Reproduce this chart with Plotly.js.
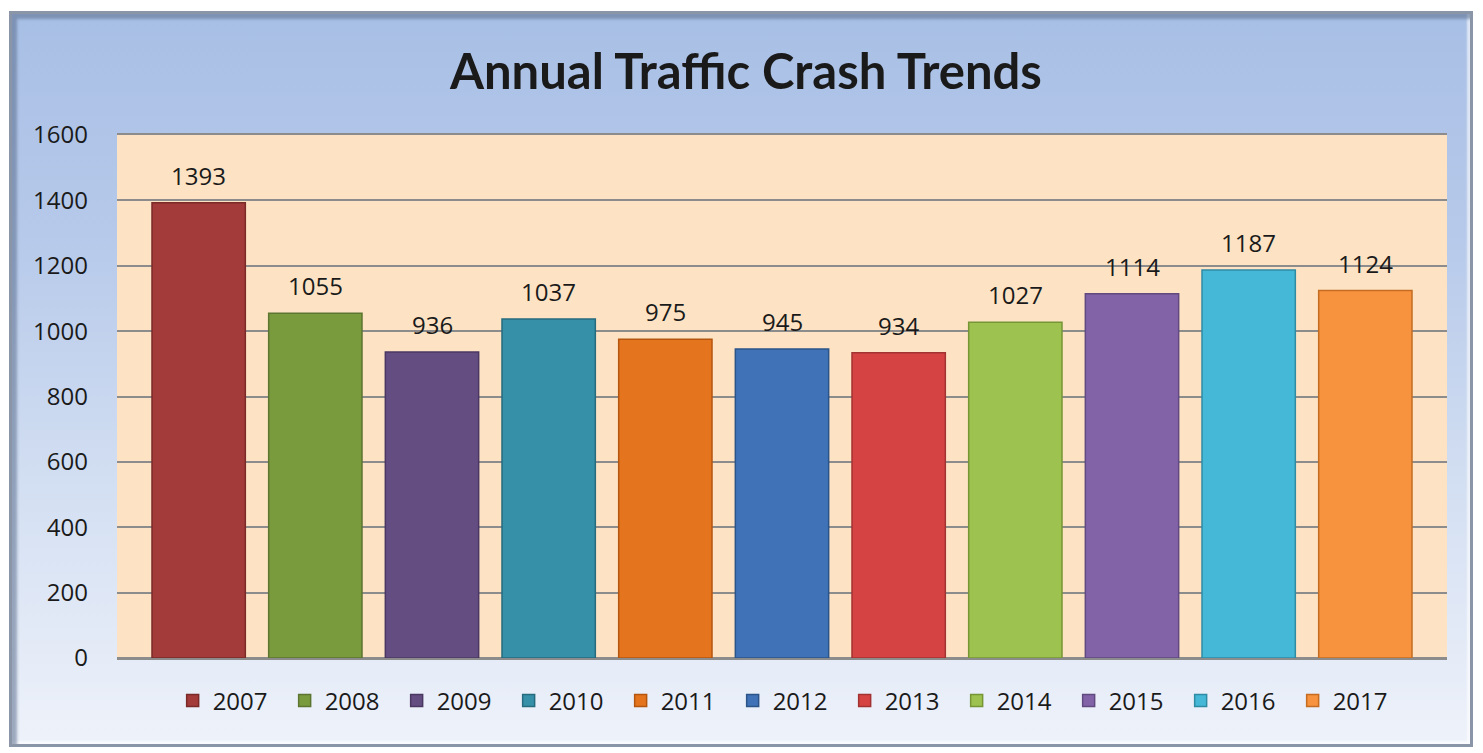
<!DOCTYPE html>
<html>
<head>
<meta charset="utf-8">
<script src="https://cdn.plot.ly/plotly-3.0.1.min.js"></script>
<style>
html,body{margin:0;padding:0;width:1483px;height:753px;overflow:hidden;background:#ffffff;}
#frame{position:absolute;left:9px;top:11px;width:1458px;height:730px;
 border:3px solid #8a96a8;box-shadow:inset 5px 5px 3px rgba(90,110,140,0.55), inset -3px -3px 2px rgba(255,255,255,0.6);
 background:linear-gradient(to bottom,#a8bfe5 0%,#b6c9ea 30%,#d3dff2 65%,#eef2fa 100%);}
#chart{position:absolute;left:0;top:0;width:1483px;height:753px;}
</style>
</head>
<body>
<div id="frame"></div>
<div id="chart"></div>
<script>
const years = ['2007','2008','2009','2010','2011','2012','2013','2014','2015','2016','2017'];
const crashes = [1393,1055,936,1037,975,945,934,1027,1114,1187,1124];
const colors = ['#a23b39','#7a9a3e','#644d80','#3590a8','#e4741e','#3f72b6','#d54443','#9dc24f','#8263a8','#45b8d8','#f7923e'];
const edges = ['#7a2a28','#5c7530','#4a3862','#266b7e','#b4560f','#2d5488','#a33232','#769535','#604a80','#2f8aa3','#c46d22'];
const yTicks = [0,200,400,600,800,1000,1200,1400,1600];

const traces = years.map((y,i)=>({
  type:'bar', name:y, x:[i], y:[crashes[i]], width:0.8,
  marker:{color:colors[i], line:{color:edges[i], width:1.5}},
  hoverinfo:'name+y'
}));

const annotations = years.map((y,i)=>({
  x:i, y:crashes[i], text:String(crashes[i]), showarrow:false,
  yanchor:'bottom', yshift:9, font:{family:'Open Sans',size:24,color:'#1a1a1a'}
}));

const layout = {
  width:1483, height:753,
  paper_bgcolor:'rgba(0,0,0,0)', plot_bgcolor:'#fde3c4',
  margin:{l:117,r:36,t:135,b:95},
  title:{text:'<b>Annual Traffic Crash Trends</b>', font:{family:'Lato',size:49,color:'#1a1a1a'}, x:0.503, xanchor:'center', y:0.905, yanchor:'middle'},
  barmode:'overlay',
  xaxis:{range:[-0.7,10.7], showticklabels:false, showgrid:false, zeroline:false, fixedrange:true,
    showline:true, mirror:true, linecolor:'#8c8c8c', linewidth:2},
  yaxis:{range:[0,1600], tickvals:yTicks, ticktext:yTicks.map(String), showgrid:true, gridcolor:'#8c8c8c', gridwidth:2,
    zeroline:true, zerolinecolor:'#8c8c8c', zerolinewidth:2, ticklabelstandoff:28,
    tickfont:{family:'Open Sans',size:24,color:'#1a1a1a'}},
  showlegend:true,
  legend:{orientation:'h', x:0.505, xanchor:'center', y:-0.082, yanchor:'middle', bgcolor:'rgba(0,0,0,0)',
    font:{family:'Open Sans',size:24,color:'#1a1a1a'}, itemwidth:30, entrywidth:67, entrywidthmode:'pixels', traceorder:'normal'},
  annotations:annotations
};
Plotly.newPlot('chart', traces, layout, {displayModeBar:false, staticPlot:true});
</script>
</body>
</html>
